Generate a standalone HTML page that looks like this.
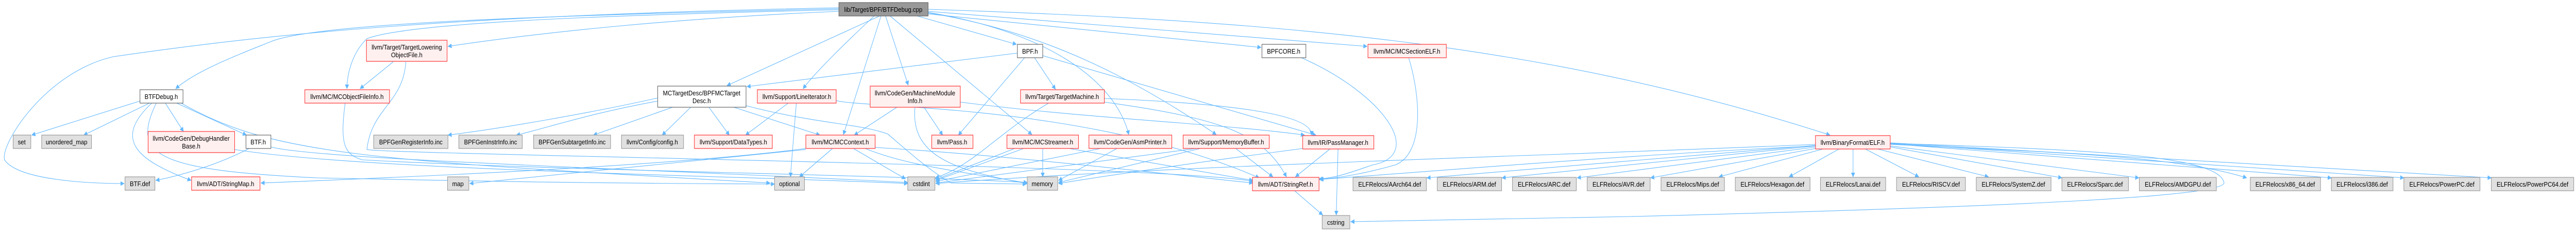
<!DOCTYPE html>
<html><head><meta charset="utf-8"><style>
html,body{margin:0;padding:0;background:#fff;overflow:hidden;width:100%;height:100%;}
svg{display:block;position:absolute;left:0;top:0;width:100vw;height:100vh;}
text{font-family:"Liberation Sans",Arial,sans-serif;font-size:13px;fill:#000;text-anchor:middle;}
.w{fill:#fff;stroke:#666;stroke-width:1.2}
.g{fill:#e0e0e0;stroke:#999;stroke-width:1.2}
.r{fill:#fff0f0;stroke:#ff3333;stroke-width:1.2}
.m{fill:#999;stroke:#666;stroke-width:1.2}
.e{fill:none;stroke:#63b8ff;stroke-width:1.1;marker-end:url(#a)}
</style></head><body>
<svg viewBox="0 0 5687 450" preserveAspectRatio="none" xmlns="http://www.w3.org/2000/svg">
<defs><marker id="a" viewBox="0 0 10 10" refX="9" refY="5" markerWidth="9" markerHeight="9" markerUnits="userSpaceOnUse" orient="auto"><path d="M0,0 L10,5 L0,10 z" fill="#63b8ff"/></marker></defs>
<g>
<path class="e" d="M1852,22 C1500,35 1200,62 989,90"/>
<path class="e" d="M1852,19 C1300,30 900,45 810,75 C780,100 766,140 766,172"/>
<path class="e" d="M1852,17 C1200,30 700,45 600,80 C500,115 430,140 388,172"/>
<path class="e" d="M1852,15 C1000,30 600,65 250,110 C100,140 0,280 10,310 C40,350 200,356 274,356"/>
<path class="e" d="M1942,31 L1605,166"/>
<path class="e" d="M1930,31 C1870,80 1800,140 1773,172"/>
<path class="e" d="M1945,31 L1862,261"/>
<path class="e" d="M1955,31 L2005,165"/>
<path class="e" d="M2025,31 L2244,86"/>
<path class="e" d="M1965,31 L2278,261"/>
<path class="e" d="M2049,24 C2300,60 2460,150 2492,261"/>
<path class="e" d="M2049,25 C2300,60 2500,150 2685,261"/>
<path class="e" d="M2049,27 L2784,92"/>
<path class="e" d="M2049,22 L3018,90"/>
<path class="e" d="M2049,18 C2800,40 3400,80 4040,262"/>
<path class="e" d="M868,120 L795,172"/>
<path class="e" d="M896,120 C890,200 820,210 810,290 C860,300 2600,320 2766,352"/>
<path class="e" d="M762,200 C750,280 760,300 800,310 C1200,330 2000,340 2268,354"/>
<path class="e" d="M309,196 C220,220 150,240 70,262"/>
<path class="e" d="M330,200 L185,262"/>
<path class="e" d="M365,200 L405,255"/>
<path class="e" d="M390,200 L544,262"/>
<path class="e" d="M335,200 C250,270 300,310 422,350"/>
<path class="e" d="M345,200 C290,300 340,330 700,345 C1000,350 1200,355 1710,357"/>
<path class="e" d="M400,200 C600,300 800,310 1700,355"/>
<path class="e" d="M550,288 C480,320 400,340 344,350"/>
<path class="e" d="M598,285 C700,310 1500,330 2004,354"/>
<path class="e" d="M518,290 C800,330 1600,340 2004,356"/>
<path class="e" d="M1452,190 C1300,220 1100,250 989,262"/>
<path class="e" d="M1452,196 C1300,220 1200,250 1140,262"/>
<path class="e" d="M1485,208 L1310,262"/>
<path class="e" d="M1525,208 L1462,262"/>
<path class="e" d="M1565,208 L1610,262"/>
<path class="e" d="M1620,208 L1810,262"/>
<path class="e" d="M1647,205 C1800,240 1900,240 1960,260 C2000,290 2050,330 2100,355 L2266,357"/>
<path class="e" d="M1740,200 L1646,262"/>
<path class="e" d="M1758,200 L1745,343"/>
<path class="e" d="M1846,195 C1900,210 2400,200 2780,345"/>
<path class="e" d="M1980,208 L1886,262"/>
<path class="e" d="M2040,208 L2081,262"/>
<path class="e" d="M2020,208 C2010,300 2100,330 2268,356"/>
<path class="e" d="M2120,198 C2400,230 2700,240 2880,262"/>
<path class="e" d="M2246,103 L1649,168"/>
<path class="e" d="M2262,112 L2116,262"/>
<path class="e" d="M2284,112 L2330,173"/>
<path class="e" d="M2302,108 L2905,262"/>
<path class="e" d="M2315,200 C2200,260 2150,320 2065,345"/>
<path class="e" d="M2438,191 C2700,200 2900,220 2895,262"/>
<path class="e" d="M2438,198 C2700,230 2790,260 2840,343"/>
<path class="e" d="M1779,290 L1037,356"/>
<path class="e" d="M1779,288 C1500,320 1000,340 576,355"/>
<path class="e" d="M1838,288 L1765,343"/>
<path class="e" d="M1884,288 L1999,347"/>
<path class="e" d="M1910,288 C2000,320 2100,330 2268,355"/>
<path class="e" d="M1932,286 C2200,300 2500,330 2766,355"/>
<path class="e" d="M2240,288 L2066,348"/>
<path class="e" d="M2260,288 L2066,350"/>
<path class="e" d="M2302,288 L2302,343"/>
<path class="e" d="M2360,288 L2766,350"/>
<path class="e" d="M2430,288 L2066,352"/>
<path class="e" d="M2466,288 L2337,350"/>
<path class="e" d="M2640,288 L2066,355"/>
<path class="e" d="M2650,288 L2337,354"/>
<path class="e" d="M2728,288 L2810,343"/>
<path class="e" d="M2876,288 C2600,320 2450,340 2337,356"/>
<path class="e" d="M2936,289 L2860,343"/>
<path class="e" d="M2954,289 L2950,417"/>
<path class="e" d="M2873,112 C3050,180 3150,300 3030,320 C2980,335 2950,345 2912,347"/>
<path class="e" d="M3110,112 C3140,200 3140,300 3080,320 C3020,335 2960,345 2912,348"/>
<path class="e" d="M2858,370 L2920,417"/>
<path class="e" d="M4008,280 C3500,300 2600,320 2066,356"/>
<path class="e" d="M4008,283 C3600,300 3200,330 2914,348"/>
<path class="e" d="M4008,282 L3150,345"/>
<path class="e" d="M4008,283 L3316,345"/>
<path class="e" d="M4010,285 L3482,345"/>
<path class="e" d="M4015,287 L3644,345"/>
<path class="e" d="M4025,289 L3795,343"/>
<path class="e" d="M4060,289 L3950,343"/>
<path class="e" d="M4091,289 L4091,343"/>
<path class="e" d="M4118,289 L4236,343"/>
<path class="e" d="M4145,289 L4390,343"/>
<path class="e" d="M4173,285 L4552,345"/>
<path class="e" d="M4173,283 L4722,345"/>
<path class="e" d="M4173,280 C4500,295 4800,300 4960,345"/>
<path class="e" d="M4173,279 L5147,345"/>
<path class="e" d="M4173,278 L5307,345"/>
<path class="e" d="M4173,277 L5500,345"/>
<path class="e" d="M4173,278 C4600,290 4900,300 4910,355 C4905,380 4500,400 3600,420 L2982,430"/>
</g>
<g>
<rect class="m" x="1852" y="5" width="197" height="26"/><text x="1950" y="23">lib/Target/BPF/BTFDebug.cpp</text>
<rect class="r" x="809" y="78" width="178" height="41"/><text x="898" y="96">llvm/Target/TargetLowering</text><text x="898" y="111">ObjectFile.h</text>
<rect class="w" x="2246" y="86" width="56" height="26"/><text x="2274" y="104">BPF.h</text>
<rect class="w" x="2786" y="86" width="97" height="26"/><text x="2834" y="104">BPFCORE.h</text>
<rect class="r" x="3020" y="86" width="173" height="26"/><text x="3106" y="104">llvm/MC/MCSectionELF.h</text>
<rect class="w" x="1452" y="167" width="195" height="41"/><text x="1549" y="185">MCTargetDesc/BPFMCTarget</text><text x="1549" y="200">Desc.h</text>
<rect class="r" x="1921" y="167" width="199" height="41"/><text x="2020" y="185">llvm/CodeGen/MachineModule</text><text x="2020" y="200">Info.h</text>
<rect class="w" x="309" y="174" width="95" height="26"/><text x="356" y="192">BTFDebug.h</text>
<rect class="r" x="673" y="174" width="187" height="26"/><text x="766" y="192">llvm/MC/MCObjectFileInfo.h</text>
<rect class="r" x="1672" y="174" width="174" height="26"/><text x="1759" y="192">llvm/Support/LineIterator.h</text>
<rect class="r" x="2253" y="174" width="185" height="26"/><text x="2345" y="192">llvm/Target/TargetMachine.h</text>
<rect class="g" x="29" y="262" width="39" height="26"/><text x="48" y="280">set</text>
<rect class="g" x="92" y="262" width="110" height="26"/><text x="147" y="280">unordered_map</text>
<rect class="r" x="327" y="255" width="191" height="41"/><text x="422" y="273">llvm/CodeGen/DebugHandler</text><text x="422" y="288">Base.h</text>
<rect class="w" x="543" y="262" width="55" height="26"/><text x="570" y="280">BTF.h</text>
<rect class="g" x="825" y="262" width="164" height="26"/><text x="907" y="280">BPFGenRegisterInfo.inc</text>
<rect class="g" x="1013" y="262" width="140" height="26"/><text x="1083" y="280">BPFGenInstrInfo.inc</text>
<rect class="g" x="1178" y="262" width="170" height="26"/><text x="1263" y="280">BPFGenSubtargetInfo.inc</text>
<rect class="g" x="1372" y="262" width="137" height="26"/><text x="1440" y="280">llvm/Config/config.h</text>
<rect class="r" x="1533" y="262" width="172" height="26"/><text x="1619" y="280">llvm/Support/DataTypes.h</text>
<rect class="r" x="1779" y="262" width="153" height="26"/><text x="1855" y="280">llvm/MC/MCContext.h</text>
<rect class="r" x="2057" y="262" width="91" height="26"/><text x="2102" y="280">llvm/Pass.h</text>
<rect class="r" x="2223" y="262" width="158" height="26"/><text x="2302" y="280">llvm/MC/MCStreamer.h</text>
<rect class="r" x="2404" y="262" width="183" height="26"/><text x="2495" y="280">llvm/CodeGen/AsmPrinter.h</text>
<rect class="r" x="2612" y="262" width="190" height="26"/><text x="2707" y="280">llvm/Support/MemoryBuffer.h</text>
<rect class="r" x="2876" y="263" width="157" height="26"/><text x="2954" y="281">llvm/IR/PassManager.h</text>
<rect class="r" x="4008" y="263" width="165" height="26"/><text x="4090" y="281">llvm/BinaryFormat/ELF.h</text>
<rect class="g" x="276" y="343" width="66" height="26"/><text x="309" y="361">BTF.def</text>
<rect class="r" x="423" y="343" width="151" height="26"/><text x="498" y="361">llvm/ADT/StringMap.h</text>
<rect class="g" x="988" y="343" width="47" height="26"/><text x="1011" y="361">map</text>
<rect class="g" x="1710" y="343" width="66" height="26"/><text x="1743" y="361">optional</text>
<rect class="g" x="2004" y="343" width="60" height="26"/><text x="2034" y="361">cstdint</text>
<rect class="g" x="2268" y="343" width="67" height="26"/><text x="2301" y="361">memory</text>
<rect class="r" x="2765" y="344" width="147" height="26"/><text x="2838" y="362">llvm/ADT/StringRef.h</text>
<rect class="g" x="2987" y="344" width="162" height="26"/><text x="3068" y="362">ELFRelocs/AArch64.def</text>
<rect class="g" x="3173" y="344" width="142" height="26"/><text x="3244" y="362">ELFRelocs/ARM.def</text>
<rect class="g" x="3339" y="344" width="141" height="26"/><text x="3409" y="362">ELFRelocs/ARC.def</text>
<rect class="g" x="3504" y="344" width="139" height="26"/><text x="3573" y="362">ELFRelocs/AVR.def</text>
<rect class="g" x="3667" y="344" width="140" height="26"/><text x="3737" y="362">ELFRelocs/Mips.def</text>
<rect class="g" x="3831" y="344" width="165" height="26"/><text x="3913" y="362">ELFRelocs/Hexagon.def</text>
<rect class="g" x="4019" y="344" width="144" height="26"/><text x="4091" y="362">ELFRelocs/Lanai.def</text>
<rect class="g" x="4187" y="344" width="152" height="26"/><text x="4263" y="362">ELFRelocs/RISCV.def</text>
<rect class="g" x="4363" y="344" width="165" height="26"/><text x="4445" y="362">ELFRelocs/SystemZ.def</text>
<rect class="g" x="4552" y="344" width="147" height="26"/><text x="4625" y="362">ELFRelocs/Sparc.def</text>
<rect class="g" x="4723" y="344" width="170" height="26"/><text x="4808" y="362">ELFRelocs/AMDGPU.def</text>
<rect class="g" x="4968" y="344" width="155" height="26"/><text x="5045" y="362">ELFRelocs/x86_64.def</text>
<rect class="g" x="5147" y="344" width="136" height="26"/><text x="5215" y="362">ELFRelocs/i386.def</text>
<rect class="g" x="5307" y="344" width="168" height="26"/><text x="5391" y="362">ELFRelocs/PowerPC.def</text>
<rect class="g" x="5500" y="344" width="182" height="26"/><text x="5591" y="362">ELFRelocs/PowerPC64.def</text>
<rect class="g" x="2919" y="418" width="61" height="26"/><text x="2949" y="436">cstring</text>
</g>
</svg>
</body></html>
